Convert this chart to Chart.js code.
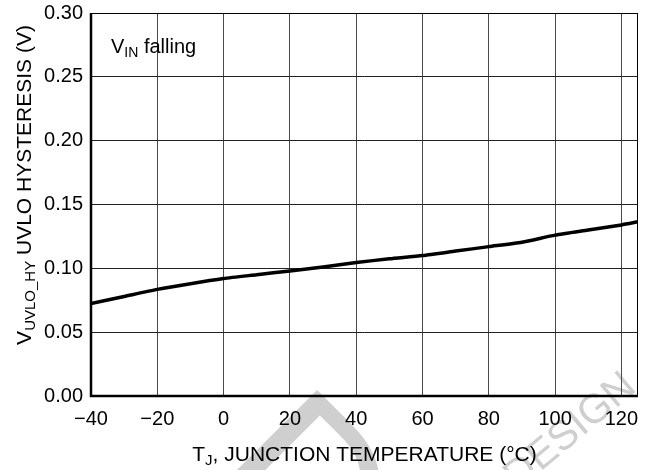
<!DOCTYPE html>
<html>
<head>
<meta charset="utf-8">
<script src="https://cdn.jsdelivr.net/npm/chart.js@4.4.1/dist/chart.umd.min.js"></script>
<style>
  html, body { margin: 0; padding: 0; background: #fff; }
</style>
</head>
<body>
<canvas id="myChart" width="650" height="470"></canvas>
<script>
// T_J (°C) and V_UVLO_HY (V)
var temps = [-40, -30, -20, -10, 0, 10, 20, 30, 40, 50, 60, 70, 80, 90, 100, 110, 120, 125];
var hysteresis = [0.0725, 0.078, 0.0835, 0.088, 0.092, 0.095, 0.098, 0.101, 0.1045, 0.1075,
                  0.110, 0.1135, 0.117, 0.1205, 0.126, 0.130, 0.134, 0.1365];
var xTicks = [-40, -20, 0, 20, 40, 60, 80, 100, 120];
var yTicks = [0, 0.05, 0.10, 0.15, 0.20, 0.25, 0.30];

var FONT = "'Liberation Sans', Arial, Helvetica, sans-serif";

// draws text with a subscript part: parts = [[text, size, dy], ...]
function drawParts(ctx, parts, x, y) {
  var w = 0;
  parts.forEach(function (p) {
    ctx.font = p[1] + "px " + FONT;
    w += ctx.measureText(p[0]).width;
  });
  var cx = x - w / 2;
  parts.forEach(function (p) {
    ctx.font = p[1] + "px " + FONT;
    ctx.fillText(p[0], cx, y + p[2]);
    cx += ctx.measureText(p[0]).width;
  });
}

var decor = {
  id: "decor",
  beforeDraw: function (chart) {
    var ctx = chart.ctx;
    ctx.save();
    ctx.fillStyle = "#cfcfcf";
    ctx.textAlign = "left";
    ctx.textBaseline = "alphabetic";
    // watermark pieces
    ctx.save();
    ctx.translate(200, 482);
    ctx.rotate(45 * Math.PI / 180);
    ctx.font = "215px " + FONT;
    ctx.fillText("D", 0, 0);
    ctx.restore();
    ctx.save();
    ctx.translate(638, 390);
    ctx.rotate(-40 * Math.PI / 180);
    ctx.textAlign = "right";
    ctx.font = "41px " + FONT;
    ctx.fillText("DESIGN", 0, 0);
    ctx.restore();
    ctx.restore();
  },
  afterDraw: function (chart) {
    var ctx = chart.ctx;
    var a = chart.chartArea;
    ctx.save();
    // thin top/right frame
    ctx.strokeStyle = "#000";
    ctx.lineWidth = 1;
    ctx.beginPath();
    ctx.moveTo(a.left, a.top + 0.5);
    ctx.lineTo(a.right - 0.5, a.top + 0.5);
    ctx.lineTo(a.right - 0.5, a.bottom);
    ctx.stroke();
    // thick left/bottom axes
    ctx.lineWidth = 2.5;
    ctx.beginPath();
    ctx.moveTo(a.left, a.top);
    ctx.lineTo(a.left, a.bottom);
    ctx.lineTo(a.right, a.bottom);
    ctx.stroke();

    ctx.fillStyle = "#000";
    ctx.textBaseline = "alphabetic";
    ctx.textAlign = "left";
    // x title
    drawParts(ctx, [["T", 21, 0], ["J", 15, 4], [", JUNCTION TEMPERATURE (°C)", 21, 0]],
      (a.left + a.right) / 2, 461);
    // y title
    ctx.save();
    ctx.translate(31, 185);
    ctx.rotate(-Math.PI / 2);
    drawParts(ctx, [["V", 21, 0], ["UVLO_HY", 15, 4], [" UVLO HYSTERESIS (V)", 21, 0]], 0, 0);
    ctx.restore();
    // annotation
    ctx.font = "20px " + FONT;
    ctx.fillText("V", 111, 53);
    var vx = 111 + ctx.measureText("V").width;
    ctx.font = "14px " + FONT;
    ctx.fillText("IN", vx, 57);
    vx += ctx.measureText("IN").width;
    ctx.font = "20px " + FONT;
    ctx.fillText(" falling", vx, 53);
    ctx.restore();
  }
};

var ctx = document.getElementById("myChart").getContext("2d");
var chart = new Chart(ctx, {
  type: "scatter",
  data: {
    datasets: [{
      data: temps.map(function (t, i) { return { x: t, y: hysteresis[i] }; }),
      showLine: true,
      borderColor: "#000",
      borderWidth: 3.5,
      pointRadius: 0,
      tension: 0.2
    }]
  },
  options: {
    responsive: false,
    animation: false,
    devicePixelRatio: 1,
    layout: { padding: { left: 0, right: 12, top: 13, bottom: 0 } },
    plugins: { legend: { display: false }, tooltip: { enabled: false } },
    scales: {
      x: {
        type: "linear",
        min: -40,
        max: 125,
        afterBuildTicks: function (scale) {
          scale.ticks = xTicks.map(function (v) { return { value: v }; });
        },
        afterFit: function (scale) {
          scale.height = 74;
          scale.paddingLeft = 0;
          scale.paddingRight = 0;
        },
        border: { display: false },
        grid: { color: "#4a4a4a", lineWidth: 1, drawTicks: false },
        ticks: {
          color: "#000",
          padding: 11,
          maxRotation: 0,
          font: { family: FONT, size: 20 },
          callback: function (v) { return v < 0 ? "\u2212" + Math.abs(v) : String(v); }
        }
      },
      y: {
        min: 0,
        max: 0.3,
        afterBuildTicks: function (scale) {
          scale.ticks = yTicks.map(function (v) { return { value: v }; });
        },
        afterFit: function (scale) {
          scale.width = 91;
          scale.paddingTop = 0;
          scale.paddingBottom = 0;
        },
        border: { display: false },
        grid: { color: "#222", lineWidth: 1, drawTicks: false },
        ticks: {
          color: "#000",
          padding: 8,
          font: { family: FONT, size: 20 },
          callback: function (v) { return v.toFixed(2); }
        }
      }
    }
  },
  plugins: [decor]
});
</script>
</body>
</html>
